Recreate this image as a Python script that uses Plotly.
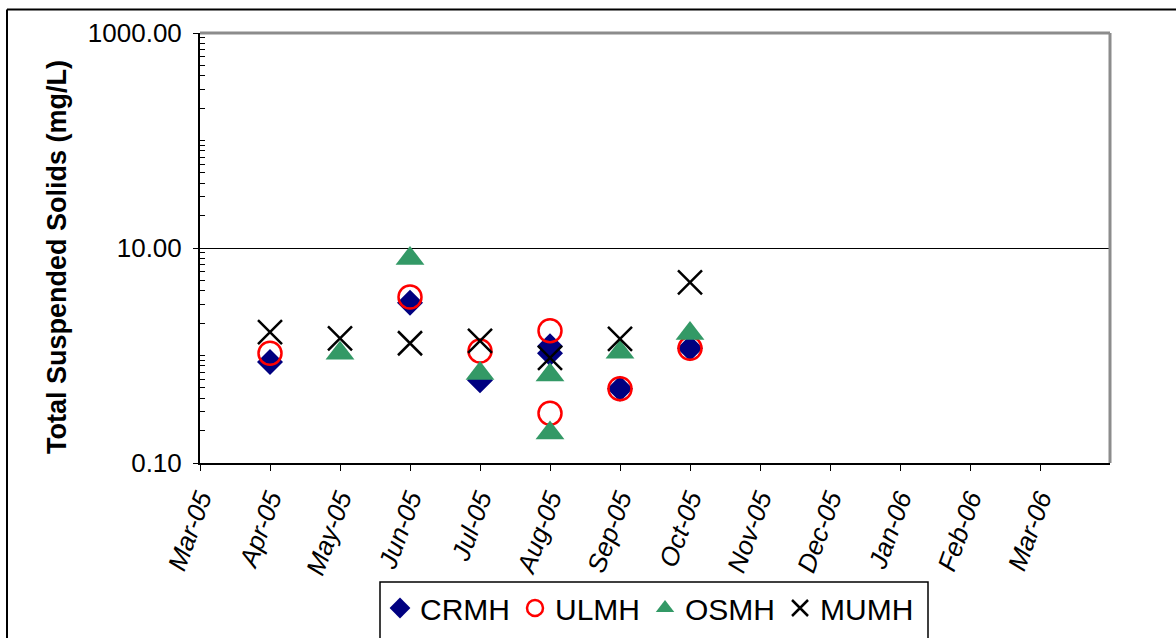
import plotly.graph_objects as go

# ---------------- data ----------------
month_labels = ["Mar-05", "Apr-05", "May-05", "Jun-05", "Jul-05", "Aug-05", "Sep-05",
                "Oct-05", "Nov-05", "Dec-05", "Jan-06", "Feb-06", "Mar-06"]

crmh_months = ["Apr-05", "Jun-05", "Jul-05", "Aug-05", "Aug-05", "Sep-05", "Oct-05"]
crmh_values = [0.87, 3.1, 0.59, 1.22, 1.05, 0.49, 1.17]

ulmh_months = ["Apr-05", "Jun-05", "Jul-05", "Aug-05", "Aug-05", "Sep-05", "Oct-05"]
ulmh_values = [1.05, 3.5, 1.1, 1.70, 0.29, 0.49, 1.17]

osmh_months = ["May-05", "Jun-05", "Jul-05", "Aug-05", "Aug-05", "Sep-05", "Oct-05"]
osmh_values = [1.05, 8.0, 0.68, 0.66, 0.19, 1.07, 1.6]

mumh_months = ["Apr-05", "May-05", "Jun-05", "Jul-05", "Aug-05", "Sep-05", "Oct-05"]
mumh_values = [1.65, 1.44, 1.3, 1.37, 0.95, 1.43, 4.8]

y_tick_vals = [0.1, 10, 1000]
y_tick_text = ["0.10", "10.00", "1000.00"]

FONT = "Liberation Sans, Arial, sans-serif"


def idx(ms):
    return [month_labels.index(m) for m in ms]


fig = go.Figure()
fig.add_trace(go.Scatter(
    x=idx(crmh_months), y=crmh_values, mode="markers", name="CRMH",
    marker=dict(symbol="diamond", size=20, color="#000080", line=dict(width=0))))
fig.add_trace(go.Scatter(
    x=idx(ulmh_months), y=ulmh_values, mode="markers", name="ULMH",
    marker=dict(symbol="circle-open", size=23, color="#FF0000", line=dict(width=2.5, color="#FF0000"))))
fig.add_trace(go.Scatter(
    x=idx(osmh_months), y=osmh_values, mode="markers", name="OSMH",
    marker=dict(symbol="triangle-up", size=25, color="#339966", line=dict(width=0))))
fig.add_trace(go.Scatter(
    x=idx(mumh_months), y=mumh_values, mode="markers", name="MUMH",
    marker=dict(symbol="x-thin-open", size=24, color="black", line=dict(width=2.5, color="black"))))

# minor tick positions on the log axis
minor_vals = []
for dec in [0.1, 1, 10, 100]:
    for k in range(1, 10):
        v = dec * k
        if k == 1 and dec in (0.1, 10):
            continue
        minor_vals.append(v)

W, H = 1176, 638
L, R, T, B = 200, 66, 33, 175
pw, ph = W - L - R, H - T - B


def px_x(p):
    return (p - L) / pw


def px_y(p):
    return (H - B - p) / ph


fig.update_layout(
    width=W, height=H, autosize=False,
    margin=dict(l=L, r=R, t=T, b=B, pad=0, autoexpand=False),
    paper_bgcolor="white", plot_bgcolor="white",
    font=dict(family=FONT, color="black", size=26),
    showlegend=True,
    legend=dict(orientation="h", xref="container", yref="container",
                x=380 / W, xanchor="left", y=1 - 608 / H, yanchor="middle",
                font=dict(family=FONT, size=30, color="black"),
                bgcolor="rgba(0,0,0,0)", borderwidth=0, itemsizing="trace",
                tracegroupgap=0, itemwidth=30),
    xaxis=dict(
        range=[0, 13], tickmode="array", tickvals=list(range(len(month_labels))),
        ticktext=month_labels, tickangle=-70, automargin=False,
        tickfont=dict(family=FONT, size=26, style="italic", color="black"),
        showgrid=False, zeroline=False, showline=True, linecolor="black", linewidth=2,
        ticks="outside", ticklen=6, tickwidth=1, tickcolor="black", ticklabelstandoff=2),
    yaxis=dict(
        type="log", range=[-1, 3], tickmode="array", tickvals=y_tick_vals, ticktext=y_tick_text,
        tickfont=dict(family=FONT, size=26, color="black"), automargin=False,
        showgrid=True, gridcolor="black", gridwidth=1, zeroline=False,
        showline=True, linecolor="black", linewidth=2,
        ticks="outside", ticklen=5, tickwidth=1, tickcolor="black", ticklabelstandoff=6,
        minor=dict(tickmode="array", tickvals=minor_vals, ticks="inside", ticklen=5,
                   tickcolor="black", tickwidth=1, showgrid=False)),
)

fig.add_annotation(
    text="<b>Total Suspended Solids (mg/L)</b>", textangle=-90,
    xref="paper", yref="paper", x=px_x(57), y=px_y(257), xanchor="center", yanchor="middle",
    showarrow=False, font=dict(family=FONT, size=27, color="black"))

shapes = [
    # grey top and right plot border
    dict(type="line", xref="paper", yref="paper", x0=0, x1=1, y0=1, y1=1,
         line=dict(color="#8c8c8c", width=3)),
    dict(type="line", xref="paper", yref="paper", x0=1, x1=1, y0=0, y1=1,
         line=dict(color="#8c8c8c", width=3)),
    # outer chart frame (top and left)
    dict(type="line", xref="paper", yref="paper", x0=px_x(7), x1=px_x(1200), y0=px_y(9.5), y1=px_y(9.5),
         line=dict(color="black", width=2)),
    dict(type="line", xref="paper", yref="paper", x0=px_x(7), x1=px_x(7), y0=px_y(9.5), y1=px_y(700),
         line=dict(color="black", width=2)),
    # legend box
    dict(type="rect", xref="paper", yref="paper", x0=px_x(380), x1=px_x(928), y0=px_y(582), y1=px_y(700),
         line=dict(color="black", width=1.5), fillcolor="rgba(0,0,0,0)"),
]
fig.update_layout(shapes=shapes)

fig.write_html("out.html")
